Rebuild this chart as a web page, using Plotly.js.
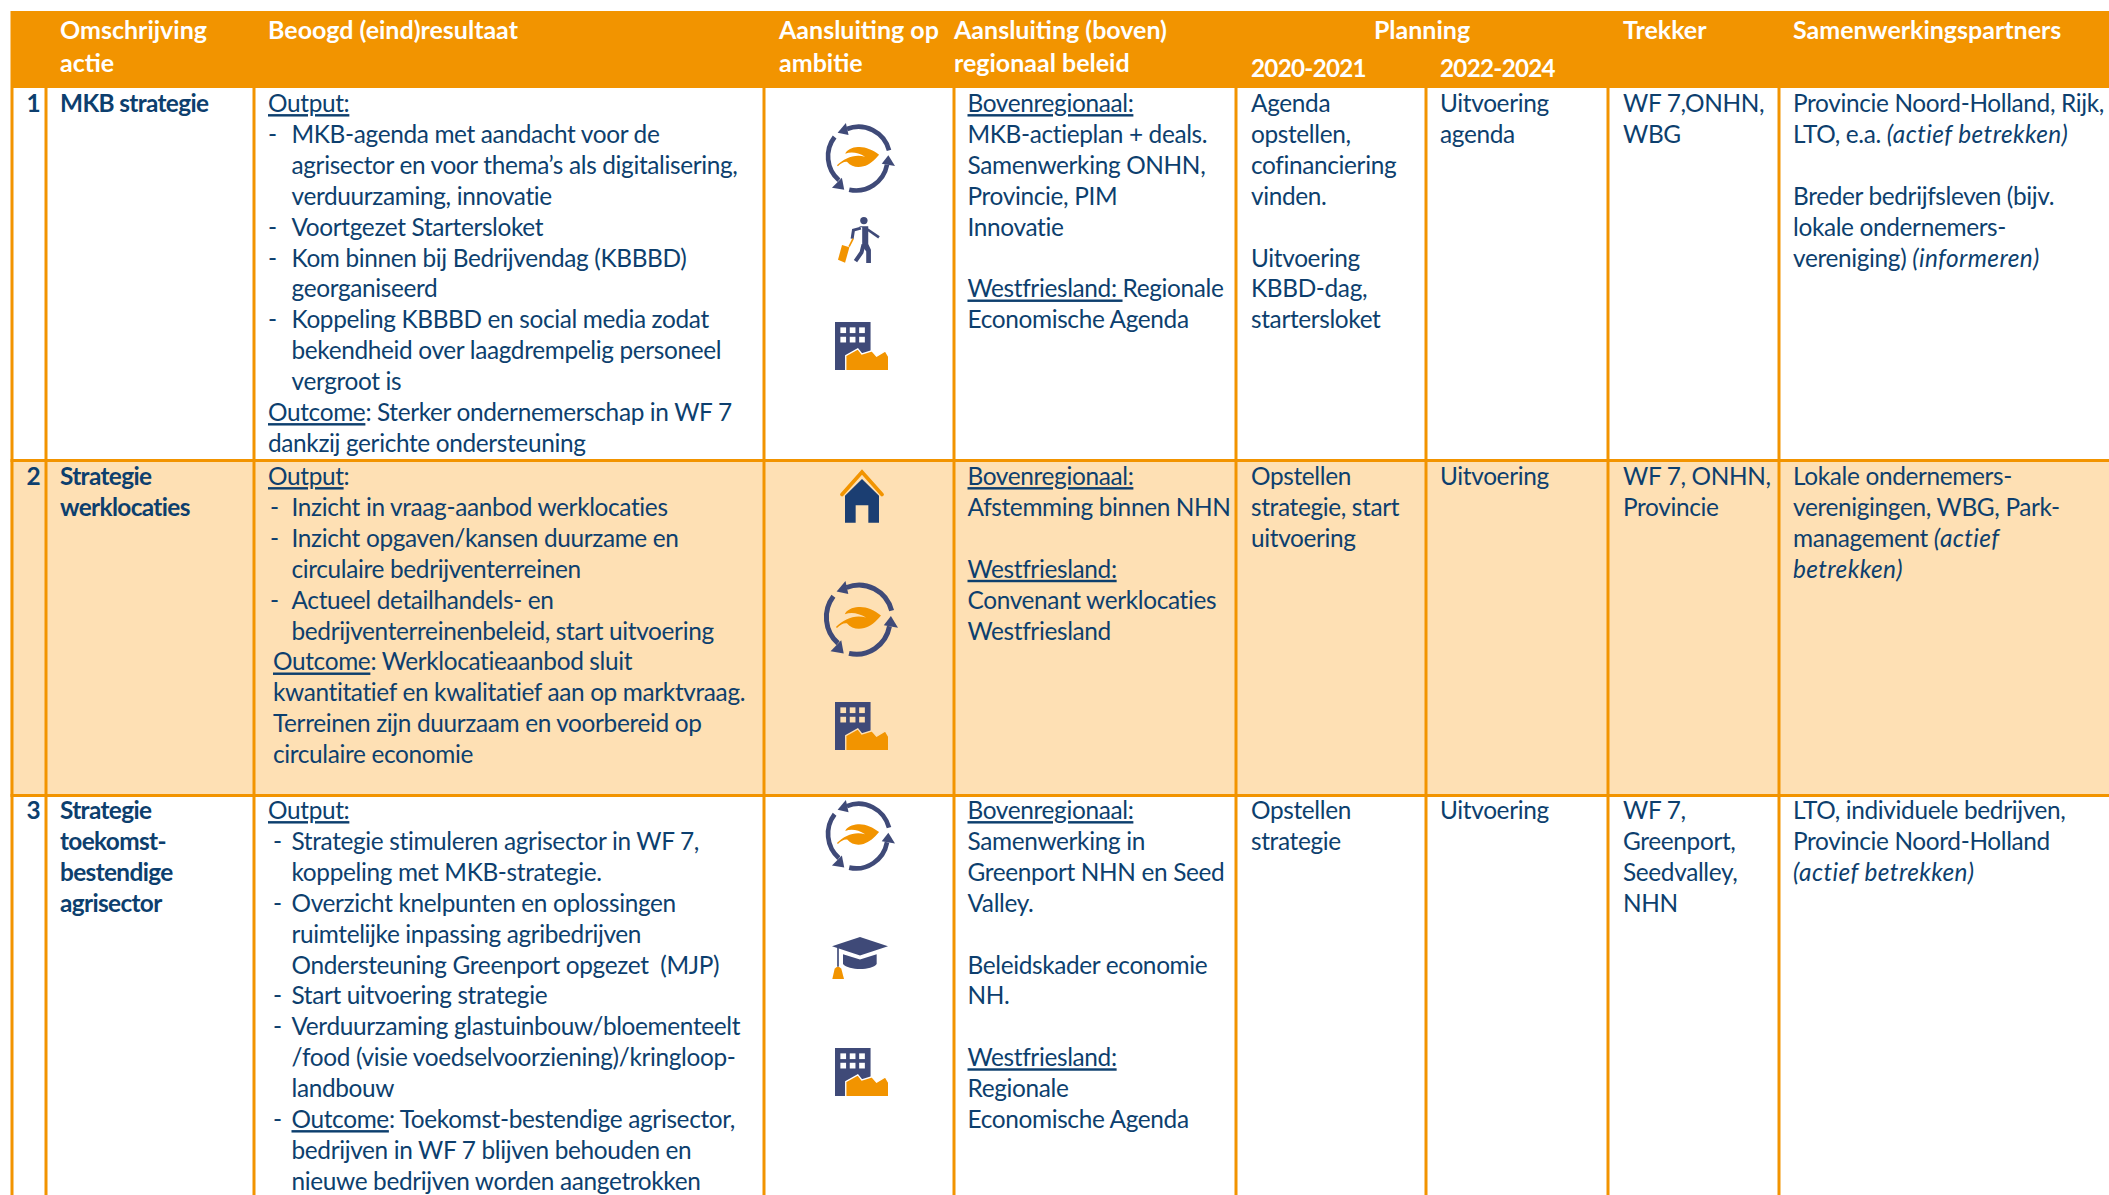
<!DOCTYPE html>
<html><head><meta charset="utf-8">
<script src="https://cdn.plot.ly/plotly-3.0.1.min.js"></script>
<style>html,body{margin:0;padding:0;background:#fff;overflow:hidden}
.textpoint text{letter-spacing:-0.35px}
.scatterlayer .trace:nth-child(2) .textpoint text{letter-spacing:-0.65px}
.scatterlayer .trace:nth-child(n+4) .textpoint text{letter-spacing:0}
.scatterlayer .trace:nth-child(6) .textpoint text{letter-spacing:-0.7px}
.textpoint tspan[style*="italic"]{letter-spacing:.4px}</style></head>
<body><div id="chart" style="width:2109px;height:1195px"></div>
<script>
/* ---------- texts ---------- */
const headerLine1 = ["Omschrijving","Beoogd (eind)resultaat","Aansluiting op","Aansluiting (boven)","Planning","Trekker","Samenwerkingspartners"];
const headerLine2 = ["actie","","ambitie","regionaal beleid"];
const planningPeriods = ["2020-2021","2022-2024"];
const rowNumbers = ["1","2","3"];
const actionNames = [
  ["MKB strategie"],
  ["Strategie","werklocaties"],
  ["Strategie","toekomst-","bestendige","agrisector"]
];
const results1 = ["<u>Output:</u>","- MKB-agenda met aandacht voor de","~agrisector en voor thema’s als digitalisering,","~verduurzaming, innovatie","- Voortgezet Startersloket","- Kom binnen bij Bedrijvendag (KBBBD)","~georganiseerd","- Koppeling KBBBD en social media zodat","~bekendheid over laagdrempelig personeel","~vergroot is","<u>Outcome</u>: Sterker ondernemerschap in WF 7","dankzij gerichte ondersteuning"];
const results2 = ["<u>Output</u>:","- Inzicht in vraag-aanbod werklocaties","- Inzicht opgaven/kansen duurzame en","~circulaire bedrijventerreinen","- Actueel detailhandels- en","~bedrijventerreinenbeleid, start uitvoering","><u>Outcome</u>: Werklocatieaanbod sluit",">kwantitatief en kwalitatief aan op marktvraag.",">Terreinen zijn duurzaam en voorbereid op",">circulaire economie"];
const results3 = ["<u>Output:</u>","- Strategie stimuleren agrisector in WF 7,","~koppeling met MKB-strategie.","- Overzicht knelpunten en oplossingen","~ruimtelijke inpassing agribedrijven","~Ondersteuning Greenport opgezet  (MJP)","- Start uitvoering strategie","- Verduurzaming glastuinbouw/bloementeelt","~/food (visie voedselvoorziening)/kringloop-","~landbouw","- <u>Outcome</u>: Toekomst-bestendige agrisector,","~bedrijven in WF 7 blijven behouden en","~nieuwe bedrijven worden aangetrokken"];
const policy = [
  ["<u>Bovenregionaal:</u>","MKB-actieplan + deals.","Samenwerking ONHN,","Provincie, PIM","Innovatie","","<u>Westfriesland: </u>Regionale","Economische Agenda"],
  ["<u>Bovenregionaal:</u>","Afstemming binnen NHN","","<u>Westfriesland:</u>","Convenant werklocaties","Westfriesland"],
  ["<u>Bovenregionaal:</u>","Samenwerking in","Greenport NHN en Seed","Valley.","","Beleidskader economie","NH.","","<u>Westfriesland:</u>","Regionale","Economische Agenda"]
];
const planning2020 = [
  ["Agenda","opstellen,","cofinanciering","vinden.","","Uitvoering","KBBD-dag,","startersloket"],
  ["Opstellen","strategie, start","uitvoering"],
  ["Opstellen","strategie"]
];
const planning2022 = [["Uitvoering","agenda"],["Uitvoering"],["Uitvoering"]];
const trekker = [["WF 7,ONHN,","WBG"],["WF 7, ONHN,","Provincie"],["WF 7,","Greenport,","Seedvalley,","NHN"]];
const partners = [
  ["Provincie Noord-Holland, Rijk,","LTO, e.a. <i>(actief betrekken)</i>","","Breder bedrijfsleven (bijv.","lokale ondernemers-","vereniging) <i>(informeren)</i>"],
  ["Lokale ondernemers-","verenigingen, WBG, Park-","management <i>(actief</i>","<i>betrekken)</i>"],
  ["LTO, individuele bedrijven,","Provincie Noord-Holland","<i>(actief betrekken)</i>"]
];
const rowIcons = [["recycle","walker","building"],["house","recycle","building"],["recycle","cap","building"]];

/* ---------- layout constants ---------- */
const W=2109,H=1195,FS=24.4,FSH=25,FSY=24.2;
const ORANGE="#f29400",NAVY="#0d3f6e",CREAM="#fee0b4",ICON="#3f4a78";
const gridX=[12,46,254,764,954,1236,1426,1608,1779];
const headTop=11,headBot=88,rowEdges=[88,460.5,795.5,1195];
const firstLine=[106,479,813],pitch=30.9;
const xNum=33.5,xName=60,xRes=268,xDash=[268,270,273],xBullet=291.5,xOutcome=273;
const xPolicy=967.5,x2020=1251,x2022=1440,xTrek=1623,xPart=1793;
const iconBoxes=[
 [[823,123,72,70],[838,217,42,46],[835,322,53,48]],
 [[840,469,44,55],[821,581,77,76],[835,702,53,48]],
 [[823,800,72,71],[832,937,56,42],[835,1048,53,48]]
];

/* ---------- text traces ---------- */
function collect(){return {x:[],y:[],t:[]};}
function put(c,x,y,t){if(t){c.x.push(x);c.y.push(y);c.t.push(t);}}
const body=collect(),bold=collect(),head=collect(),headC=collect(),years=collect();
[results1,results2,results3].forEach((lines,r)=>lines.forEach((s,i)=>{
  const y=firstLine[r]+i*pitch;
  if(s.startsWith("- ")){put(body,xDash[r],y,"-");put(body,xBullet,y,s.slice(2));}
  else if(s[0]==="~")put(body,xBullet,y,s.slice(1));
  else if(s[0]===">")put(body,xOutcome,y,s.slice(1));
  else put(body,xRes,y,s);
}));
[[policy,xPolicy],[planning2020,x2020],[planning2022,x2022],[trekker,xTrek],[partners,xPart]].forEach(([col,x])=>
  col.forEach((lines,r)=>lines.forEach((s,i)=>put(body,x,firstLine[r]+i*pitch,s))));
actionNames.forEach((lines,r)=>lines.forEach((s,i)=>put(bold,xName,firstLine[r]+i*pitch,"<b>"+s+"</b>")));
const numCenter=collect();
rowNumbers.forEach((s,r)=>put(numCenter,xNum,firstLine[r],"<b>"+s+"</b>"));
const headX=[60,268,779,954,null,1623,1793];
headerLine1.forEach((s,i)=>{ if(headX[i]!==null) put(head,headX[i],33,"<b>"+s+"</b>"); else put(headC,1422,33,"<b>"+s+"</b>");});
headerLine2.forEach((s,i)=>put(head,headX[i],65.5,s?"<b>"+s+"</b>":""));
planningPeriods.forEach((s,i)=>put(years,[x2020,x2022][i],71,"<b>"+s+"</b>"));
function tr(c,color,pos,fs){return {type:"scatter",mode:"text",x:c.x,y:c.y,text:c.t,textposition:pos,cliponaxis:false,hoverinfo:"skip",showlegend:false,
  textfont:{family:"Lato, Carlito, sans-serif",size:fs,color:color}};}
const traces=[tr(body,NAVY,"middle right",FS),tr(bold,NAVY,"middle right",FS),tr(numCenter,NAVY,"middle center",FS),tr(head,"#ffffff","middle right",FSH),tr(headC,"#ffffff","middle center",FSH),tr(years,"#ffffff","middle right",FSY)];

/* ---------- icons ---------- */
function uri(vb,inner){return "data:image/svg+xml;charset=utf-8,"+encodeURIComponent(`<svg xmlns="http://www.w3.org/2000/svg" viewBox="0 0 ${vb}" preserveAspectRatio="none">${inner}</svg>`);}
const iconDraw={
 recycle:()=>uri("217 210",`<g fill="none" stroke="${ICON}" stroke-width="14"><path d="M199 82A95 95 0 0 0 72 18"/><path d="M35 42A95 95 0 0 0 48 172"/><path d="M79 200A95 95 0 0 0 193 125"/></g><g fill="${ICON}"><path d="M44 29L69 0L77 36Z"/><path d="M64 200L27 194L57 164Z"/><path d="M197 97L217 129L177 122Z"/></g><path fill="${ORANGE}" d="M169 95C150 80 125 70 105 72C88 73 72 80 67 92C85 85 105 88 127 101C95 92 65 105 42 127L45 130C55 120 65 115 73 117C85 132 105 135 122 130C140 125 155 112 169 95Z"/>`),
 walker:()=>uri("125 140",`<circle cx="77" cy="11" r="11" fill="${ICON}"/><path fill="${ICON}" d="M62 28H90V82L98 100V140H84V105L72 88V32Z"/><path fill="none" stroke="${ICON}" stroke-width="12" d="M76 84L70 108L52 134"/><path fill="none" stroke="${ICON}" stroke-width="8" d="M88 38L122 62"/><path fill="none" stroke="${ICON}" stroke-width="9" d="M68 34L46 40L42 66"/><path stroke="${ORANGE}" stroke-width="5" d="M33 90L45 66"/><path fill="${ORANGE}" d="M12 85L34 92L21 139L0 130Z"/>`),
 building:bg=>{let w="";[16,44,72].forEach(x=>[16,44].forEach(y=>w+=`<rect x="${x}" y="${y}" width="17" height="17" fill="${bg}"/>`));
   return uri("158 143",`<rect width="106" height="143" fill="${ICON}"/>${w}<path fill="${ORANGE}" stroke="${bg}" stroke-width="4" d="M32 146V100L68 80L80 95L110 86L124 102L150 86L160 103V146Z"/>`);},
 house:()=>uri("132 164",`<path fill="#1b3e72" d="M15 80L66 30L117 80V160H85V108H47V160H15Z"/><path fill="none" stroke="${ORANGE}" stroke-width="11" stroke-linejoin="miter" stroke-linecap="round" d="M6 76L66 9L126 76"/>`),
 cap:()=>uri("168 127",`<path fill="${ICON}" d="M0 28L84 0L168 28L84 56Z"/><path fill="${ICON}" d="M33 52L84 68L134 52V82C120 102 50 102 33 82Z"/><path stroke="${ICON}" stroke-width="5" d="M18 32V90"/><path fill="${ORANGE}" d="M1 127L8 96Q18 84 28 96L36 127Z"/>`)
};
const images=[];
rowIcons.forEach((names,r)=>names.forEach((n,i)=>{const b=iconBoxes[r][i];
  images.push({source:iconDraw[n](r===1?CREAM:"#ffffff"),xref:"x",yref:"y",x:b[0],y:b[1],sizex:b[2],sizey:b[3],xanchor:"left",yanchor:"top",sizing:"stretch",layer:"above"});}));

/* ---------- grid ---------- */
const shapes=[
 {type:"rect",xref:"x",yref:"y",x0:gridX[0]-1.5,x1:W,y0:rowEdges[1],y1:rowEdges[2],fillcolor:CREAM,line:{width:0},layer:"below"},
 {type:"rect",xref:"x",yref:"y",x0:gridX[0]-1.5,x1:W,y0:headTop,y1:headBot,fillcolor:ORANGE,line:{width:0},layer:"below"}
];
gridX.forEach(x=>shapes.push({type:"line",xref:"x",yref:"y",x0:x,x1:x,y0:headBot,y1:H,line:{color:ORANGE,width:3},layer:"below"}));
rowEdges.slice(1,3).forEach(y=>shapes.push({type:"line",xref:"x",yref:"y",x0:gridX[0]-1.5,x1:W,y0:y,y1:y,line:{color:ORANGE,width:3},layer:"below"}));

Plotly.newPlot("chart",traces,{
  width:W,height:H,margin:{l:0,r:0,t:0,b:0},paper_bgcolor:"#fff",plot_bgcolor:"#fff",showlegend:false,
  xaxis:{range:[0,W],visible:false,fixedrange:true},
  yaxis:{range:[H,0],visible:false,fixedrange:true},
  shapes:shapes,images:images
},{displayModeBar:false,staticPlot:true});
</script></body></html>
